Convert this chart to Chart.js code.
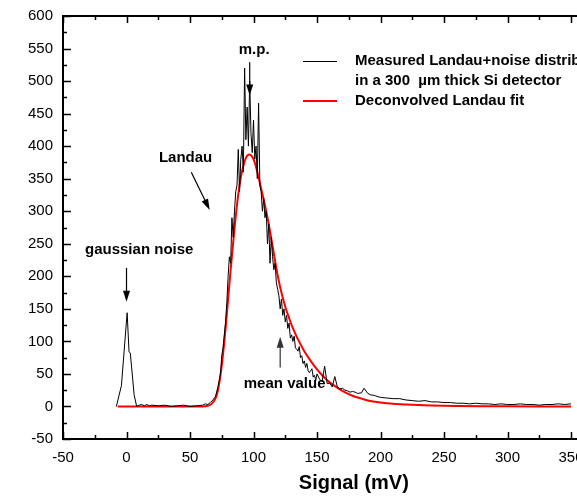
<!DOCTYPE html>
<html>
<head>
<meta charset="utf-8">
<script src="https://cdn.jsdelivr.net/npm/chart.js@4.4.1/dist/chart.umd.min.js"></script>
<style>
  html, body { margin: 0; padding: 0; background: #fff; overflow: hidden; }
  #wrap { width: 577px; height: 499px; overflow: hidden; }
</style>
</head>
<body>
<div id="wrap"><canvas id="chart" width="670" height="499"></canvas></div>
<script>
// measured spectrum (mV, counts)
const measuredX = [-8, -4, 0.5, 2, 3, 6, 8, 10, 12, 14, 16, 18, 20, 25, 30, 35, 40, 45, 50, 55, 60, 62, 64, 66, 68,
  70, 72, 73, 74, 75, 76, 77, 78, 79, 80, 81, 82, 83, 84, 85, 86, 87, 88, 89, 90, 91, 92, 93, 94, 95, 96, 97, 98, 99,
  100, 101, 102, 103, 104, 105, 106, 107, 108, 109, 110, 111, 112, 113, 114, 115, 116, 117, 118, 119, 120, 121, 122, 123, 124,
  125, 126, 127, 128, 129, 130, 131, 132, 133, 134, 135, 136, 137, 138, 139, 140, 141, 142, 143, 144, 145, 146, 147, 148, 149,
  150, 152, 154, 156, 158, 160, 162, 164, 166, 168, 170, 172, 174, 176, 178, 180, 182, 185, 187, 190, 192, 195, 198,
  200, 205, 210, 215, 220, 225, 230, 235, 240, 245, 250, 255, 260, 265, 270, 275, 280, 285, 290, 295,
  300, 305, 310, 315, 320, 325, 330, 335, 340, 345, 350];
const measuredY = [0, 32, 144, 84, 82, 18, 0, 2, 3, 1, 3, 1, 2, 1, 2, 0, 1, 2, 0, 1, 2, 4, 3, 6, 10,
  15, 30, 40, 50, 78, 90, 110, 130, 160, 200, 230, 220, 290, 260, 300, 330, 340, 395, 330, 380, 400, 360, 520, 410, 460, 400, 500, 420, 390,
  440, 380, 400, 350, 466, 340, 330, 300, 320, 290, 300, 250, 280, 220, 260, 230, 210, 220, 190, 180, 170, 150, 165, 140, 150,
  130, 140, 120, 128, 105, 110, 100, 108, 90, 88, 85, 92, 75, 78, 66, 70, 60, 66, 55, 52, 55, 58, 45, 48, 40,
  50, 42, 38, 62, 35, 36, 30, 46, 30, 27, 28, 25, 24, 22, 23, 22, 20, 21, 28, 20, 18, 17, 15,
  14, 13, 12, 12, 10, 9, 8, 9, 7, 7, 6, 6, 5, 5, 4, 5, 4, 4, 3, 4,
  3, 3, 4, 3, 3, 2, 3, 3, 4, 3, 4];

// deconvolved Landau fit
const fitX = [-7, 0, 20, 40, 60, 64, 67, 70, 72, 74, 76, 78, 80, 82, 84, 86, 88, 90, 92, 94, 96, 98,
  100, 102, 104, 106, 108, 110, 112, 114, 116, 118, 120, 122, 124, 126, 128, 130, 135, 140, 145,
  150, 155, 160, 165, 170, 175, 180, 185, 190, 200, 210, 220, 240, 260, 300, 350];
const fitY = [0, 0, 0, 0, 0, 1, 4, 12, 25, 48, 80, 120, 165, 210, 252, 292, 326, 352, 370, 382, 387, 386,
  380, 368, 352, 335, 318, 300, 280, 258, 235, 212, 192, 175, 160, 147, 136, 125, 103, 85, 70,
  57, 46, 37, 30, 24, 19, 15, 12, 9, 6, 4, 3, 1.5, 0.8, 0.2, 0];

const xTicks = [-50, 0, 50, 100, 150, 200, 250, 300, 350, 400];
const yTicks = [-50, 0, 50, 100, 150, 200, 250, 300, 350, 400, 450, 500, 550, 600];

const legendLabels = ["Measured Landau+noise distribution", "in a 300  \u00b5m thick Si detector", "Deconvolved Landau fit"];

// annotations: text at data coords, arrows from -> to (head at "to")
const notes = [
  { text: "gaussian noise", x: 10, y: 241 },
  { text: "m.p.", x: 100.5, y: 548 },
  { text: "Landau", x: 46.5, y: 382 },
  { text: "mean value", x: 124.5, y: 34 }
];
const arrows = [
  { x1: 0, y1: 213, x2: 0, y2: 161, color: "#000" },
  { x1: 97, y1: 529, x2: 97, y2: 478, color: "#000" },
  { x1: 51, y1: 360, x2: 65.5, y2: 302, color: "#000" },
  { x1: 121, y1: 60, x2: 121, y2: 107, color: "#333" }
];

const FONT = "'Liberation Sans', Arial, Helvetica, sans-serif";

function toPoints(xs, ys) {
  return xs.map((x, i) => ({ x: x, y: ys[i] }));
}

const framePlugin = {
  id: "frame",
  afterDraw(chart) {
    const ctx = chart.ctx;
    const a = chart.chartArea;
    const xs = chart.scales.x, ys = chart.scales.y;
    ctx.save();
    ctx.strokeStyle = "#000";
    ctx.lineWidth = 2;
    ctx.beginPath();
    ctx.moveTo(a.left, a.top);
    ctx.lineTo(a.right, a.top);
    ctx.moveTo(a.left, a.top - 1);
    ctx.lineTo(a.left, a.bottom);
    ctx.lineTo(a.right, a.bottom);
    ctx.stroke();

    // inward ticks
    ctx.lineWidth = 1.5;
    ctx.beginPath();
    for (let v = -50; v <= 400; v += 25) {
      const px = Math.round(xs.getPixelForValue(v)) + 0.5;
      const len = v % 50 === 0 ? 7 : 4;
      ctx.moveTo(px, a.bottom);
      ctx.lineTo(px, a.bottom - len);
      ctx.moveTo(px, a.top);
      ctx.lineTo(px, a.top + len);
    }
    for (let v = -50; v <= 600; v += 25) {
      const py = Math.round(ys.getPixelForValue(v)) + 0.5;
      const len = v % 50 === 0 ? 8 : 4;
      ctx.moveTo(a.left, py);
      ctx.lineTo(a.left + len, py);
    }
    ctx.stroke();

    // annotations
    ctx.fillStyle = "#000";
    ctx.font = "bold 15px " + FONT;
    ctx.textAlign = "center";
    ctx.textBaseline = "middle";
    notes.forEach(n => {
      ctx.fillText(n.text, xs.getPixelForValue(n.x), ys.getPixelForValue(n.y));
    });
    arrows.forEach(ar => {
      const x1 = xs.getPixelForValue(ar.x1), y1 = ys.getPixelForValue(ar.y1);
      const x2 = xs.getPixelForValue(ar.x2), y2 = ys.getPixelForValue(ar.y2);
      const ang = Math.atan2(y2 - y1, x2 - x1);
      ctx.strokeStyle = ar.color;
      ctx.fillStyle = ar.color;
      ctx.lineWidth = 1.2;
      ctx.beginPath();
      ctx.moveTo(x1, y1);
      ctx.lineTo(x2 - 8 * Math.cos(ang), y2 - 8 * Math.sin(ang));
      ctx.stroke();
      ctx.beginPath();
      ctx.moveTo(x2, y2);
      ctx.lineTo(x2 - 11 * Math.cos(ang) + 3.5 * Math.sin(ang), y2 - 11 * Math.sin(ang) - 3.5 * Math.cos(ang));
      ctx.lineTo(x2 - 11 * Math.cos(ang) - 3.5 * Math.sin(ang), y2 - 11 * Math.sin(ang) + 3.5 * Math.cos(ang));
      ctx.closePath();
      ctx.fill();
    });

    // legend
    const lx = 303, ly = 61;
    ctx.lineWidth = 1;
    ctx.strokeStyle = "#000";
    ctx.beginPath();
    ctx.moveTo(lx, ly + 0.5);
    ctx.lineTo(lx + 34, ly + 0.5);
    ctx.stroke();
    ctx.lineWidth = 2;
    ctx.strokeStyle = "#ff0000";
    ctx.beginPath();
    ctx.moveTo(lx, ly + 40);
    ctx.lineTo(lx + 34, ly + 40);
    ctx.stroke();
    ctx.fillStyle = "#000";
    ctx.textAlign = "left";
    ctx.font = "bold 15px " + FONT;
    legendLabels.forEach((t, i) => {
      ctx.fillText(t, lx + 52, ly + i * 20);
    });
    ctx.restore();
  }
};

new Chart(document.getElementById("chart"), {
  type: "line",
  data: {
    datasets: [
      {
        label: legendLabels[0],
        data: toPoints(measuredX, measuredY),
        borderColor: "#000",
        borderWidth: 1,
        pointRadius: 0,
        tension: 0
      },
      {
        label: legendLabels[2],
        data: toPoints(fitX, fitY),
        borderColor: "#ff0000",
        borderWidth: 2,
        pointRadius: 0,
        tension: 0.3
      }
    ]
  },
  options: {
    responsive: false,
    animation: false,
    layout: { padding: { left: 0, top: 16, right: 25.3, bottom: 0 } },
    plugins: { legend: { display: false }, tooltip: { enabled: false } },
    scales: {
      x: {
        type: "linear",
        min: -50,
        max: 408,
        grid: { display: false, drawTicks: false },
        border: { display: false },
        afterBuildTicks: s => { s.ticks = xTicks.map(v => ({ value: v })); },
        afterFit: s => { s.height = 60; s.paddingLeft = 0; s.paddingRight = 0; },
        ticks: { color: "#000", font: { family: FONT, size: 15 }, padding: 10, maxRotation: 0, autoSkip: false },
        title: { display: true, text: "Signal (mV)", color: "#000", font: { family: FONT, size: 20, weight: "bold" }, padding: { top: 8 } }
      },
      y: {
        min: -50,
        max: 600,
        grid: { display: false, drawTicks: false },
        border: { display: false },
        afterBuildTicks: s => { s.ticks = yTicks.map(v => ({ value: v })); },
        afterFit: s => { s.width = 63; s.paddingTop = 0; s.paddingBottom = 0; },
        ticks: { color: "#000", font: { family: FONT, size: 15 }, padding: 10, autoSkip: false }
      }
    }
  },
  plugins: [framePlugin]
});
</script>
</body>
</html>
